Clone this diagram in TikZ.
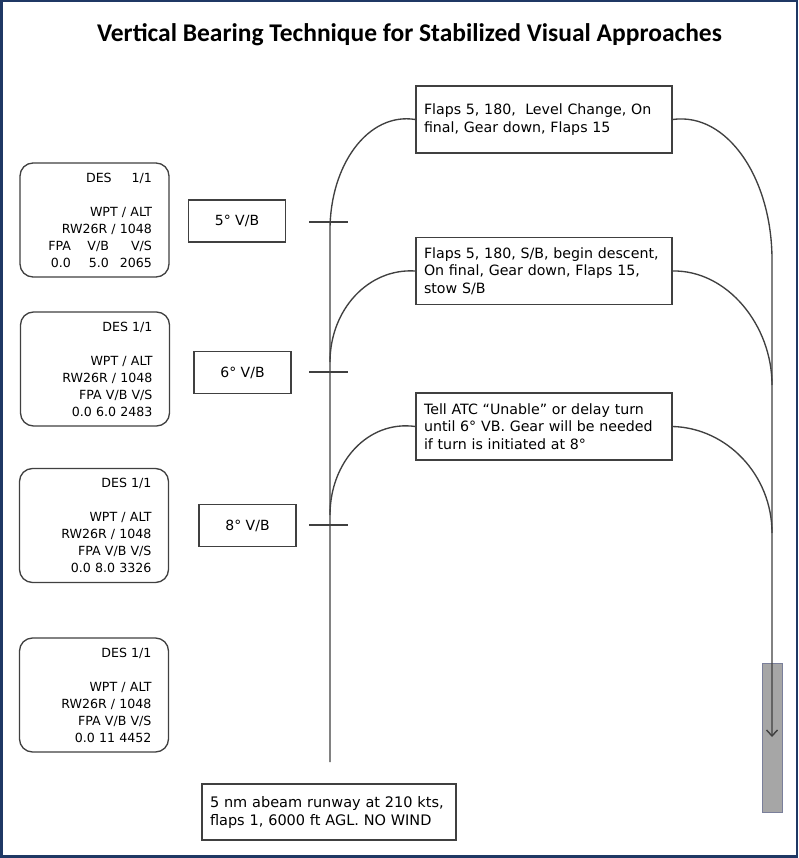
\documentclass[tikz,border=0pt]{standalone}
\usepackage{fontspec}
\setmainfont{DejaVu Sans}
\newfontfamily\titlefont{Carlito}
\usetikzlibrary{arrows.meta}
\definecolor{navy}{HTML}{1F3864}
\definecolor{ln}{HTML}{404040}
\definecolor{rwy}{HTML}{A6A6A6}
\definecolor{rwyedge}{HTML}{7A7F9A}
\newcommand{\colrow}[3]{\makebox[34pt][r]{#1}\makebox[38pt][r]{#2}\makebox[43pt][r]{#3}}
\begin{document}
\begin{tikzpicture}[x=1pt,y=-1pt,
  conn/.style={draw=ln,line width=1.35pt},
  fmcbox/.style={draw=ln,line width=1.3pt,rounded corners=13pt,minimum width=149pt,minimum height=114pt,
     text width=115pt,align=right,inner sep=0pt,font=\fontsize{12.6}{17}\selectfont},
  vbbox/.style={draw=ln,line width=1.3pt,minimum width=97pt,minimum height=42pt,inner sep=0pt,font=\fontsize{14}{16}\selectfont},
  notebox/.style={draw=ln,line width=1.3pt,minimum width=256pt,minimum height=67pt,text width=240pt,
     align=left,inner sep=0pt,font=\fontsize{14.2}{17.5}\selectfont},
  tick/.style={draw=ln,line width=1.35pt}]
\fill[navy] (0,0) rectangle (798,858);
\fill[white] (2.5,2.5) rectangle (795.5,855);
\useasboundingbox (0,0) rectangle (798,858);

\node[font=\titlefont\bfseries\fontsize{25.5}{28}\selectfont] (title) at (409.5,35) {Vertical Bearing Technique for Stabilized Visual Approaches};

% FMC boxes
\node[fmcbox] (fa) at (94.5,220) {DES\hspace{20pt}1/1\\[17pt]WPT / ALT\\RW26R / 1048\\\colrow{FPA}{V/B}{V/S}\\\colrow{0.0}{5.0}{2065}};
\node[fmcbox] (fb) at (95,369) {DES 1/1\\[17pt]WPT / ALT\\RW26R / 1048\\FPA V/B V/S\\0.0 6.0 2483};
\node[fmcbox] (fc) at (94,525.5) {DES 1/1\\[17pt]WPT / ALT\\RW26R / 1048\\FPA V/B V/S\\0.0 8.0 3326};
\node[fmcbox] (fd) at (94,695) {DES 1/1\\[17pt]WPT / ALT\\RW26R / 1048\\FPA V/B V/S\\0.0 11 4452};

% V/B boxes
\node[vbbox] (v5) at (237,221) {5° V/B};
\node[vbbox] (v6) at (242.5,372.5) {6° V/B};
\node[vbbox] (v8) at (247.5,525.5) {8° V/B};

% note boxes
\node[notebox] (n1) at (544,119.5) {Flaps 5, 180,\ \ Level Change, On\\final, Gear down, Flaps 15};
\node[notebox] (n2) at (544,271) {Flaps 5, 180, S/B, begin descent,\\On final, Gear down, Flaps 15,\\stow S/B};
\node[notebox] (n3) at (544,426.5) {Tell ATC “Unable” or delay turn\\until 6° VB. Gear will be needed\\if turn is initiated at 8°};

% bottom box
\node[draw=ln,line width=1.3pt,minimum width=254pt,minimum height=56pt,text width=238pt,align=left,inner sep=0pt,
  font=\fontsize{14.5}{18}\selectfont] (start) at (329,812) {5 nm abeam runway at 210 kts,\\flaps 1, 6000 ft AGL. NO WIND};

% runway
\filldraw[fill=rwy,draw=rwyedge,line width=1pt] (762,663) rectangle (782,812);

% left trunk
\coordinate (j1) at (330,230);
\coordinate (j2) at (330,362);
\coordinate (j3) at (330,515);
\coordinate (tb) at (330,762);
\draw[conn] (n1.west) .. controls (368,112) and (330,165) .. (j1) -- (tb);
\draw[conn] (n2.west) .. controls (368,268) and (330,310) .. (j2);
\draw[conn] (n3.west) .. controls (368,420) and (330,462) .. (j3);

% ticks
\coordinate (t5) at (330,222);
\coordinate (t6) at (330,372);
\coordinate (t8) at (330,525);
\foreach \t in {t5,t6,t8} \draw[tick] ([xshift=-21pt]\t) -- ([xshift=18pt]\t);

% right side
\coordinate (r1) at (772,260);
\coordinate (r2) at (772,385);
\coordinate (r3) at (772,533);
\coordinate (rend) at (772,737);
\draw[conn,-{Straight Barb[length=6pt,width=11pt,line width=1.4pt]}] (n1.east) .. controls (727,112) and (772,178) .. (r1) -- (rend);
\draw[conn] (n2.east) .. controls (727,270) and (772,325) .. (r2);
\draw[conn] (n3.east) .. controls (727,428) and (772,475) .. (r3);
\end{tikzpicture}
\end{document}
